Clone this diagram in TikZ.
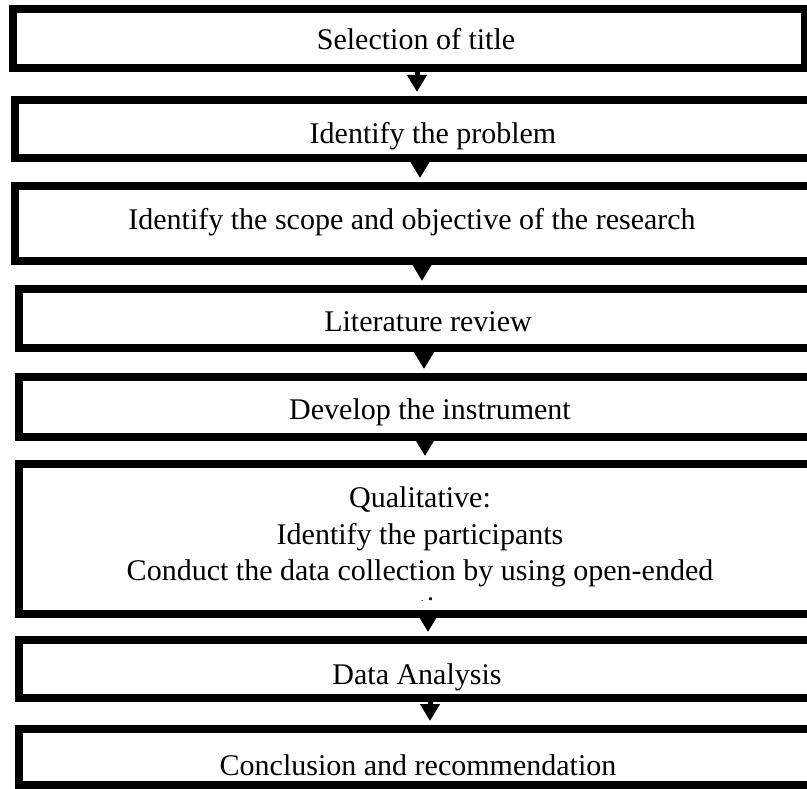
\documentclass[tikz,border=0pt]{standalone}
\usepackage{fontspec}
\setmainfont{Liberation Serif}
\usetikzlibrary{arrows.meta}
\tikzset{
  stagebox/.style={draw, rectangle, line width=8pt, inner sep=0pt},
  stagetext/.style={anchor=base, inner sep=0pt, font=\fontsize{30}{36.5}\selectfont},
  flowarrow/.style={line width=5pt, -{Triangle[width=19pt,length=17pt]}, shorten >=4pt}
}

\begin{document}
\begin{tikzpicture}[x=1pt, y=1pt]
        \useasboundingbox (0,0) rectangle (807,-789);
        \clip (0,0) rectangle (807,-789);
        \fill[white] (0,0) rectangle (807,-789);
        % boxes
        \node[stagebox, minimum width=792pt, minimum height=59pt] (b1) at (409,-38.5) {};
        \node[stagebox, minimum width=800pt, minimum height=58pt] (b2) at (415,-129) {};
        \node[stagebox, minimum width=800pt, minimum height=75pt] (b3) at (415,-223.5) {};
        \node[stagebox, minimum width=800pt, minimum height=59pt] (b4) at (419,-318.5) {};
        \node[stagebox, minimum width=800pt, minimum height=60pt] (b5) at (419,-407) {};
        \node[stagebox, minimum width=804pt, minimum height=150pt] (b6) at (421,-539) {};
        \node[stagebox, minimum width=806pt, minimum height=58pt] (b7) at (422,-669) {};
        \node[stagebox, minimum width=806pt, minimum height=56pt] (b8) at (422,-757) {};
        % texts
        \node[stagetext] (t1) at (416,-50) {Selection of title};
        \node[stagetext] (t2) at (433,-144) {Identify the problem};
        \node[stagetext] (t3) at (412,-230) {Identify the scope and objective of the research};
        \node[stagetext] (t4) at (428,-331) {Literature review};
        \node[stagetext] (t5) at (430,-419) {Develop the instrument};
        \begin{scope}
            \clip ([yshift=-8pt]b6.north west) rectangle ([yshift=18pt]b6.south east);
            % last line is cut by the box
            \node[stagetext, align=center] (t6) at (420,-617) {Qualitative:\\Identify the participants\\Conduct the data collection by using open-ended\\questions};
        \end{scope}
        \node[stagetext] (t7) at (417,-684) {Data Analysis};
        \node[stagetext] (t8) at (418,-775) {Conclusion and recommendation};
        % arrows
        \coordinate (a1) at (417,0);
        \coordinate (a2) at (420,0);
        \coordinate (a3) at (422,0);
        \coordinate (a4) at (424,0);
        \coordinate (a5) at (425,0);
        \coordinate (a6) at (428,0);
        \coordinate (a7) at (430,0);
        \draw[flowarrow] (b1.south -| a1) -- (b2.north -| a1);
        \draw[flowarrow] (b2.south -| a2) -- (b3.north -| a2);
        \draw[flowarrow] (b3.south -| a3) -- (b4.north -| a3);
        \draw[flowarrow] (b4.south -| a4) -- (b5.north -| a4);
        \draw[flowarrow] (b5.south -| a5) -- (b6.north -| a5);
        \draw[flowarrow] (b6.south -| a6) -- (b7.north -| a6);
        \draw[flowarrow] (b7.south -| a7) -- (b8.north -| a7);
\end{tikzpicture}
\end{document}
